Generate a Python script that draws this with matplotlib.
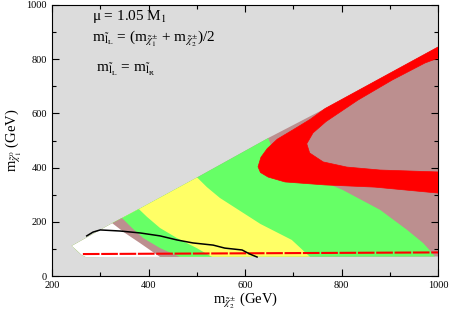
import numpy as np
import matplotlib
matplotlib.use("Agg")
import matplotlib.pyplot as plt
from matplotlib.patches import Polygon
from matplotlib.ticker import MultipleLocator

plt.rcParams['font.family'] = ['Liberation Serif', 'DejaVu Serif']
plt.rcParams['mathtext.fontset'] = 'stix'

# allowed wedge (upper edge, then right side and bottom back to the left corner)
wedge_x = [241, 324, 380, 500, 648, 766, 1000, 1000, 270, 262, 248]
wedge_y = [111, 194, 247, 363, 509, 618, 845, 72, 70, 77, 100]

# band boundaries, each running from the upper edge down to the bottom edge
white_bx = [324, 351, 382, 424]
white_by = [196, 159, 122, 70]
brown1_bx = [345, 366, 389, 424, 465]
brown1_by = [214, 177, 140, 103, 70]
green1_bx = [380, 397, 424, 459, 500, 532]
green1_by = [247, 218, 177, 140, 103, 70]
yellow_bx = [500, 521, 548, 590, 632, 697, 735]
yellow_by = [365, 328, 288, 240, 192, 133, 70]
green2_bx = [648, 662, 693, 755, 803, 880, 936, 969, 988, 994]
green2_by = [509, 448, 400, 354, 317, 244, 170, 122, 85, 70]

# red hairpin band of points
red_x = [1000, 766, 735, 700, 667, 646, 633, 627, 632, 648, 683, 766, 869, 1000,
         1000, 880, 811, 762, 734, 728, 741, 768, 834, 905, 973, 1000]
red_y = [845, 618, 578, 540, 505, 470, 438, 403, 382, 365, 347, 336, 328, 306,
         384, 391, 402, 421, 454, 488, 528, 570, 649, 723, 786, 804]

# red points along the lower edge
redline_x = [264, 1000]
redline_y = [81, 87]

# black curve
black_x = [272, 285, 300, 341, 382, 424, 459, 492, 534, 558, 594, 610, 625]
black_y = [148, 162, 170, 166, 159, 148, 133, 122, 114, 103, 96, 81, 70]

GRAY = '#dcdcdc'
BROWN = '#bc8f8f'
GREEN = '#66ff66'
YELLOW = '#ffff66'

fig = plt.figure(figsize=(4.5, 3.14), dpi=100)
ax = fig.add_axes([52 / 450, 1 - 276 / 314, 386 / 450, 271 / 314])
ax.set_facecolor(GRAY)
ax.set_xlim(200, 1000)
ax.set_ylim(0, 1000)

wedge = Polygon(np.column_stack([wedge_x, wedge_y]), closed=True,
                facecolor=BROWN, edgecolor='none', zorder=1)
ax.add_patch(wedge)


def left_of(bx, by, color):
    # region left of a boundary, clipped to the wedge
    xs = [bx[0] - 10, bx[0] - 10] + list(bx) + [bx[-1], 100, 100]
    ys = [1100, by[0] + 60] + list(by) + [-100, -100, 1100]
    p = Polygon(np.column_stack([xs, ys]), closed=True,
                facecolor=color, edgecolor='none', zorder=2)
    ax.add_patch(p)
    p.set_clip_path(wedge)


left_of(green2_bx, green2_by, GREEN)
left_of(yellow_bx, yellow_by, YELLOW)
left_of(green1_bx, green1_by, GREEN)
left_of(brown1_bx, brown1_by, BROWN)
left_of(white_bx, white_by, 'white')

ax.add_patch(Polygon(np.column_stack([red_x, red_y]), closed=True,
                     facecolor='red', edgecolor='red', lw=0.5, zorder=3))
ax.plot(redline_x, redline_y, color='red', lw=1.5, dashes=(8, 0.8), zorder=3)
ax.plot(black_x, black_y, color='black', lw=1.1, zorder=4)

ax.xaxis.set_major_locator(MultipleLocator(200))
ax.xaxis.set_minor_locator(MultipleLocator(100))
ax.yaxis.set_major_locator(MultipleLocator(200))
ax.yaxis.set_minor_locator(MultipleLocator(100))
ax.tick_params(which='both', direction='in', top=True, right=True, labelsize=7.5,
               width=0.8)
ax.tick_params(which='major', length=5)
ax.tick_params(which='minor', length=3)
for s in ax.spines.values():
    s.set_linewidth(0.8)

ax.set_xlabel(r'm$_{\tilde{\chi}_2^{\pm}}$ (GeV)', fontsize=10.5, labelpad=1)
ax.set_ylabel(r'm$_{\tilde{\chi}_1^{0}}$ (GeV)', fontsize=10.5, labelpad=2)

lt = r'\tilde{\mathrm{l}}'
ax.text(0.104, 0.945, 'μ = 1.05 M$_1$', transform=ax.transAxes,
        fontsize=11, va='baseline')
ax.text(0.104, 0.863,
        r'm$_{%s_{\mathrm{L}}}$ = (m$_{\tilde{\chi}_1^{\pm}}$ + m$_{\tilde{\chi}_2^{\pm}}$)/2' % lt,
        transform=ax.transAxes, fontsize=11, va='baseline')
ax.text(0.114, 0.753, r'm$_{%s_{\mathrm{L}}}$ = m$_{%s_{\mathrm{R}}}$' % (lt, lt),
        transform=ax.transAxes, fontsize=11, va='baseline')

fig.savefig('out.png', dpi=100)
